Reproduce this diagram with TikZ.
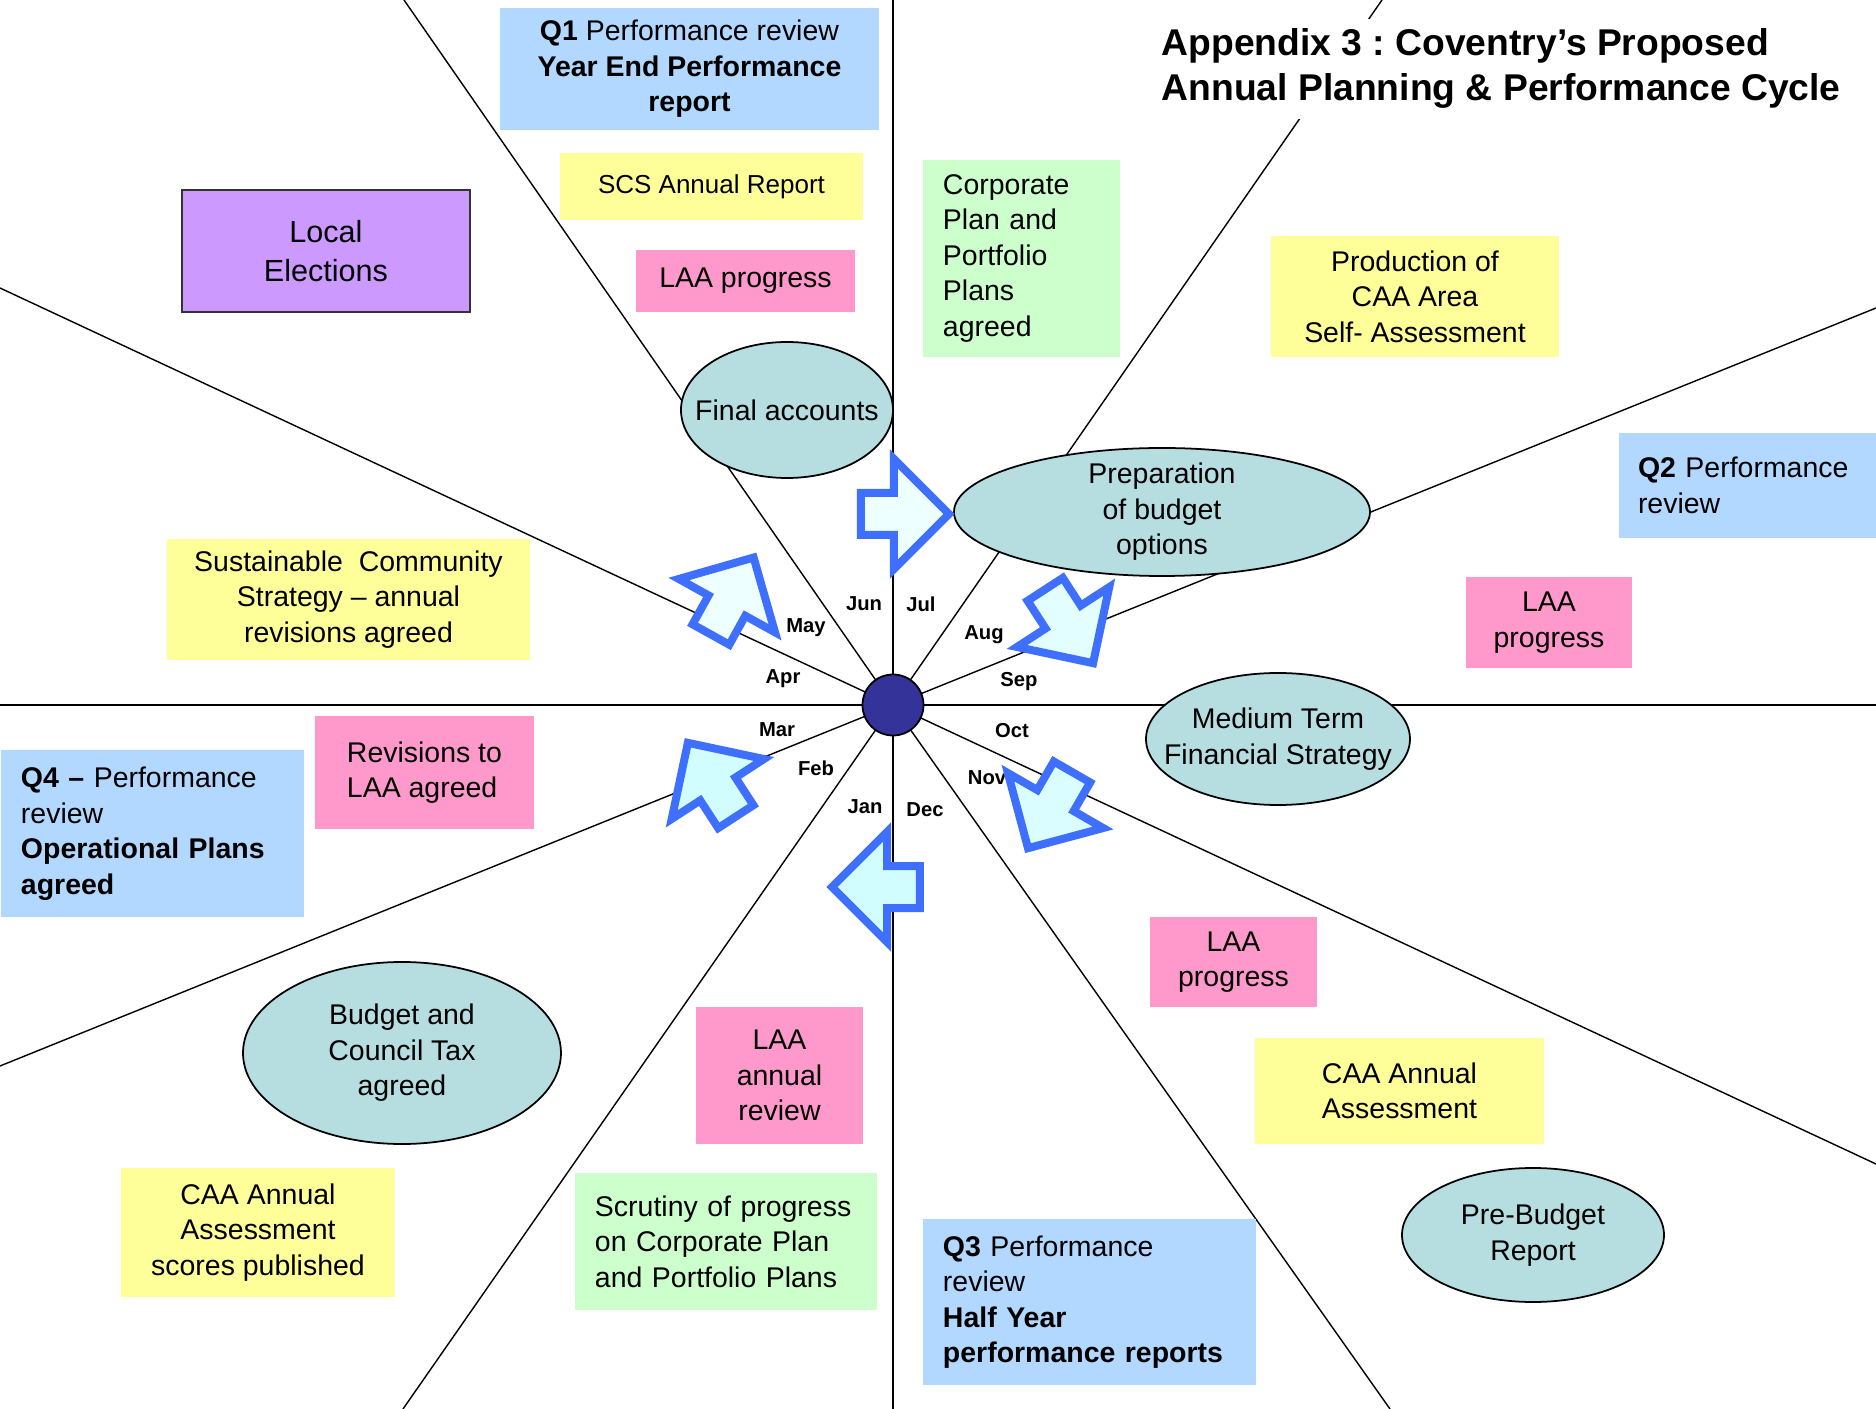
\documentclass[tikz,border=0pt]{standalone}
\usepackage{fontspec}
\setmainfont{Liberation Sans}
\usetikzlibrary{shapes.geometric, shapes.arrows, backgrounds}
\definecolor{cblue}{HTML}{B3D8FF}
\definecolor{cyellow}{HTML}{FFFF99}
\definecolor{cpink}{HTML}{FF99CC}
\definecolor{cgreen}{HTML}{CCFFCC}
\definecolor{cpurple}{HTML}{CC99FF}
\definecolor{cteal}{HTML}{B6DEE0}
\definecolor{cnavy}{HTML}{333399}
\definecolor{carrow}{HTML}{3F6FFF}
\definecolor{cpale}{HTML}{EEFFFF}
\definecolor{ccyan}{HTML}{D2FDFF}
\newcommand{\bodysize}{\fontsize{8.1}{10.1}\selectfont}
\frenchspacing
\tikzset{
  every picture/.style={line width=0.4pt},
  card/.style={fill=#1, inner sep=0pt, align=center, font=\bodysize},
  card/.default=cyellow,
  leftcard/.style={card=#1, align=left, inner xsep=0.2cm},
  oval/.style={ellipse, draw, fill=cteal, line width=0.5pt, inner sep=-1cm, align=center, font=\bodysize},
  cyclearrow/.style={single arrow, draw=carrow, fill=#1, line width=0.08cm, single arrow head extend=0.34cm,
                     single arrow tip angle=90, inner xsep=0pt, inner ysep=0.17cm, minimum height=0.88cm, anchor=tail},
  cyclearrow/.default=cpale,
  monthlabel/.style={font=\fontsize{5.75}{7}\selectfont\bfseries, inner sep=0pt},
  spoke/.style={line width=0.4pt},
}

\begin{document}
\begin{tikzpicture}
  \useasboundingbox (-8.93,-7.04) rectangle (9.83,7.05);
  \node[circle, draw, fill=cnavy, line width=0.5pt, minimum size=0.61cm, inner sep=0pt] (hub) at (0,0) {};
  \node[anchor=north west, fill=white, inner xsep=0.05cm, inner ysep=0.1cm, align=left,
        font=\fontsize{10.6}{12.8}\selectfont\bfseries] (title) at (2.63,6.87)
    {Appendix 3 : Coventry’s Proposed\\Annual Planning \& Performance Cycle};

  % upper left quarter
  \node[card=cblue, minimum width=3.79cm, minimum height=1.22cm] (q1) at (-2.035,6.36)
    {\textbf{Q1} Performance review\\\textbf{Year End Performance}\\\textbf{report}};
  \node[card, minimum width=3.03cm, minimum height=0.67cm, font=\fontsize{7.4}{9}\selectfont] (scsreport) at (-1.815,5.185) {SCS Annual Report};
  \node[card=cpink, minimum width=2.19cm, minimum height=0.62cm] (laatop) at (-1.475,4.24) {LAA progress};
  \node[card=cpurple, draw=black!80, line width=0.6pt, minimum width=2.88cm, minimum height=1.22cm,
        font=\fontsize{8.7}{11}\selectfont] (elections) at (-5.67,4.54) {Local\\ Elections};
  \node[card, minimum width=3.63cm, minimum height=1.21cm] (scsrev) at (-5.445,1.055)
    {Sustainable\ \ Community\\Strategy – annual\\revisions agreed};
  \node[oval, minimum width=2.12cm, minimum height=1.36cm] (final) at (-1.06,2.95) {Final accounts};

  % upper right quarter
  \node[leftcard=cgreen, text width=1.57cm, minimum height=1.97cm] (corp) at (1.285,4.465)
    {Corporate\\Plan and\\Portfolio\\Plans\\agreed};
  \node[oval, minimum width=4.16cm, minimum height=1.28cm] (prep) at (2.69,1.93) {Preparation\\of budget\\options};
  \node[card, minimum width=2.88cm, minimum height=1.21cm] (selfass) at (5.22,4.085)
    {Production of\\CAA Area\\Self- Assessment};
  \node[leftcard=cblue, inner xsep=0.19cm, text width=2.19cm, minimum height=1.05cm] (q2) at (8.545,2.195)
    {\textbf{Q2} Performance\\review};
  \node[card=cpink, minimum width=1.66cm, minimum height=0.91cm] (laaright) at (6.56,0.825) {LAA\\progress};

  % lower right quarter
  \node[oval, minimum width=2.64cm, minimum height=1.32cm] (mtfs) at (3.85,-0.34) {Medium Term\\Financial Strategy};
  \node[card=cpink, minimum width=1.67cm, minimum height=0.90cm] (laalow) at (3.405,-2.57) {LAA\\progress};
  \node[card, minimum width=2.89cm, minimum height=1.06cm] (caaass) at (5.065,-3.86) {CAA Annual\\Assessment};
  \node[oval, minimum width=2.62cm, minimum height=1.34cm] (prebudget) at (6.40,-5.30) {Pre-Budget\\Report};
  \node[leftcard=cblue, text width=2.93cm, minimum height=1.66cm] (q3) at (1.965,-5.97)
    {\textbf{Q3} Performance\\review\\\textbf{Half Year}\\\textbf{performance reports}};

  % lower left quarter
  \node[card=cpink, minimum width=1.67cm, minimum height=1.37cm] (laareview) at (-1.135,-3.705) {LAA\\annual\\review};
  \node[leftcard=cgreen, text width=2.62cm, minimum height=1.37cm] (scrutiny) at (-1.67,-5.365)
    {Scrutiny of progress\\on Corporate Plan\\and Portfolio Plans};
  \node[oval, minimum width=3.18cm, minimum height=1.82cm] (budget) at (-4.91,-3.48) {Budget and\\Council Tax\\agreed};
  \node[card, minimum width=2.74cm, minimum height=1.29cm] (scores) at (-6.35,-5.275)
    {CAA Annual\\Assessment\\scores published};
  \node[leftcard=cblue, text width=2.63cm, minimum height=1.67cm] (q4) at (-7.405,-1.285)
    {\textbf{Q4 –} Performance\\review\\\textbf{Operational Plans}\\\textbf{agreed}};
  \node[card=cpink, align=left, minimum width=2.19cm, minimum height=1.13cm] (revisions) at (-4.685,-0.675)
    {Revisions to\\LAA agreed};

  % months
  \node[monthlabel] (jun) at (-0.29,1.01) {Jun}; \node[monthlabel] (jul) at (0.28,1.01) {Jul};
  \node[monthlabel] (may) at (-0.87,0.77) {May}; \node[monthlabel] (aug) at (0.91,0.70) {Aug};
  \node[monthlabel] (apr) at (-1.10,0.26) {Apr}; \node[monthlabel] (sep) at (1.26,0.23) {Sep};
  \node[monthlabel] (mar) at (-1.16,-0.25) {Mar}; \node[monthlabel] (oct) at (1.19,-0.26) {Oct};
  \node[monthlabel] (feb) at (-0.77,-0.63) {Feb}; \node[monthlabel] (nov) at (0.94,-0.73) {Nov};
  \node[monthlabel] (jan) at (-0.28,-1.02) {Jan}; \node[monthlabel] (dec) at (0.32,-1.05) {Dec};

  % cycle arrows
  \node[cyclearrow, rotate=61] (toq1) at (-1.84,0.67) {};
  \node[cyclearrow] (toprep) at (-0.36,1.91) {};
  \node[cyclearrow=cpale!60!ccyan, rotate=-57] (toq2) at (1.50,1.19) {};
  \node[cyclearrow=cpale!30!ccyan, rotate=-120] (toq3) at (1.81,-0.635) {};
  \node[cyclearrow=ccyan, rotate=180] (tojan) at (0.31,-1.82) {};
  \node[cyclearrow=ccyan, rotate=123] (toq4) at (-1.55,-1.15) {};

  % spokes between the months
  \coordinate (junjul) at (0,7.05);      \coordinate (decjan) at (0,-7.04);
  \coordinate (aprmar) at (-8.93,0);     \coordinate (sepoct) at (9.83,0);
  \coordinate (mayjun) at (-4.89,7.05);  \coordinate (novdec) at (4.97,-7.04);
  \coordinate (julaug) at (4.89,7.05);   \coordinate (janfeb) at (-4.90,-7.04);
  \coordinate (aprmay) at (-8.93,4.17);  \coordinate (octnov) at (9.83,-4.59);
  \coordinate (augsep) at (9.83,3.97);   \coordinate (febmar) at (-8.93,-3.61);
  \begin{scope}[on background layer]
    \foreach \e in {junjul, decjan, aprmar, sepoct, mayjun, novdec, julaug, janfeb, aprmay, octnov, augsep, febmar}
      \draw[spoke] (hub.center) -- (\e);
  \end{scope}
\end{tikzpicture}
\end{document}
